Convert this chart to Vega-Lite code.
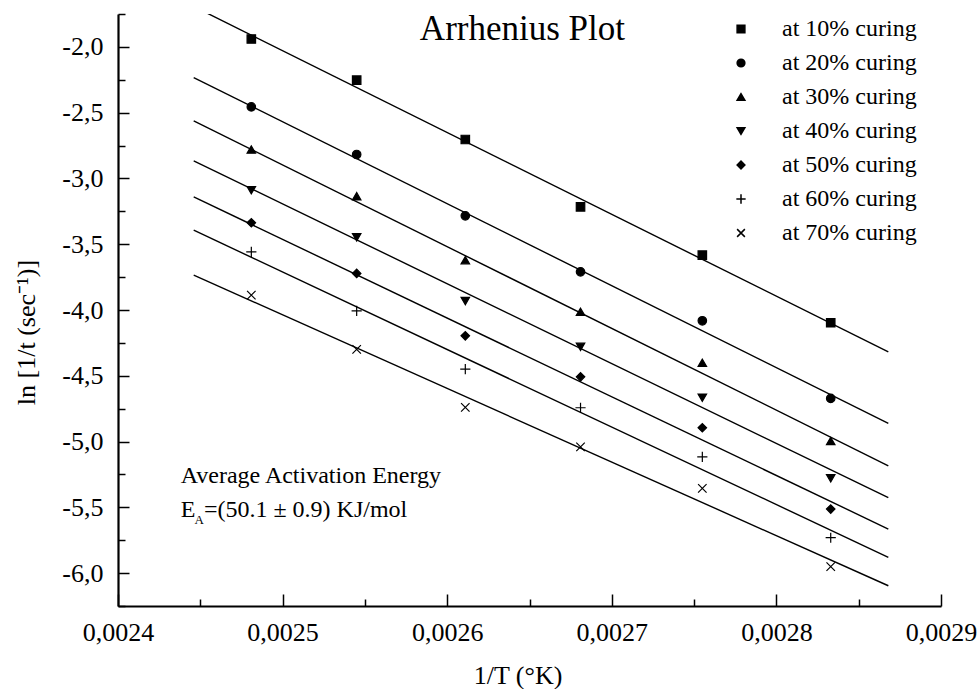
{
  "$schema": "https://vega.github.io/schema/vega-lite/v6.json",
  "width": 823,
  "height": 592,
  "autosize": "none",
  "padding": {"left": 118, "top": 14, "right": 37, "bottom": 83},
  "background": "white",
  "config": {
    "view": {"stroke": null},
    "font": "Liberation Serif",
    "axis": {"grid": false, "labelFont": "Liberation Serif", "titleFont": "Liberation Serif", "labelColor": "black", "titleColor": "black", "titleFontWeight": "normal", "domainColor": "black", "tickColor": "black"}
  },
  "resolve": {"axis": {"x": "independent", "y": "independent"}},
  "datasets": {
    "points": [
      {"invT": 0.002481, "lnk": -1.94, "series": "at 10% curing"},
      {"invT": 0.002545, "lnk": -2.253, "series": "at 10% curing"},
      {"invT": 0.002611, "lnk": -2.704, "series": "at 10% curing"},
      {"invT": 0.002681, "lnk": -3.216, "series": "at 10% curing"},
      {"invT": 0.002755, "lnk": -3.583, "series": "at 10% curing"},
      {"invT": 0.002833, "lnk": -4.097, "series": "at 10% curing"},
      {"invT": 0.002481, "lnk": -2.456, "series": "at 20% curing"},
      {"invT": 0.002545, "lnk": -2.818, "series": "at 20% curing"},
      {"invT": 0.002611, "lnk": -3.284, "series": "at 20% curing"},
      {"invT": 0.002681, "lnk": -3.71, "series": "at 20% curing"},
      {"invT": 0.002755, "lnk": -4.082, "series": "at 20% curing"},
      {"invT": 0.002833, "lnk": -4.672, "series": "at 20% curing"},
      {"invT": 0.002481, "lnk": -2.78, "series": "at 30% curing"},
      {"invT": 0.002545, "lnk": -3.135, "series": "at 30% curing"},
      {"invT": 0.002611, "lnk": -3.621, "series": "at 30% curing"},
      {"invT": 0.002681, "lnk": -4.014, "series": "at 30% curing"},
      {"invT": 0.002755, "lnk": -4.401, "series": "at 30% curing"},
      {"invT": 0.002833, "lnk": -4.996, "series": "at 30% curing"},
      {"invT": 0.002481, "lnk": -3.089, "series": "at 40% curing"},
      {"invT": 0.002545, "lnk": -3.448, "series": "at 40% curing"},
      {"invT": 0.002611, "lnk": -3.932, "series": "at 40% curing"},
      {"invT": 0.002681, "lnk": -4.28, "series": "at 40% curing"},
      {"invT": 0.002755, "lnk": -4.667, "series": "at 40% curing"},
      {"invT": 0.002833, "lnk": -5.28, "series": "at 40% curing"},
      {"invT": 0.002481, "lnk": -3.337, "series": "at 50% curing"},
      {"invT": 0.002545, "lnk": -3.722, "series": "at 50% curing"},
      {"invT": 0.002611, "lnk": -4.196, "series": "at 50% curing"},
      {"invT": 0.002681, "lnk": -4.508, "series": "at 50% curing"},
      {"invT": 0.002755, "lnk": -4.895, "series": "at 50% curing"},
      {"invT": 0.002833, "lnk": -5.513, "series": "at 50% curing"},
      {"invT": 0.002481, "lnk": -3.558, "series": "at 60% curing"},
      {"invT": 0.002545, "lnk": -4.006, "series": "at 60% curing"},
      {"invT": 0.002611, "lnk": -4.449, "series": "at 60% curing"},
      {"invT": 0.002681, "lnk": -4.743, "series": "at 60% curing"},
      {"invT": 0.002755, "lnk": -5.116, "series": "at 60% curing"},
      {"invT": 0.002833, "lnk": -5.731, "series": "at 60% curing"},
      {"invT": 0.002481, "lnk": -3.887, "series": "at 70% curing"},
      {"invT": 0.002545, "lnk": -4.299, "series": "at 70% curing"},
      {"invT": 0.002611, "lnk": -4.74, "series": "at 70% curing"},
      {"invT": 0.002681, "lnk": -5.04, "series": "at 70% curing"},
      {"invT": 0.002755, "lnk": -5.356, "series": "at 70% curing"},
      {"invT": 0.002833, "lnk": -5.951, "series": "at 70% curing"}
    ],
    "lines": [
      {"invT": 0.002446, "lnk": -1.693, "series": "at 10% curing"},
      {"invT": 0.002868, "lnk": -4.318, "series": "at 10% curing"},
      {"invT": 0.002446, "lnk": -2.233, "series": "at 20% curing"},
      {"invT": 0.002868, "lnk": -4.862, "series": "at 20% curing"},
      {"invT": 0.002446, "lnk": -2.562, "series": "at 30% curing"},
      {"invT": 0.002868, "lnk": -5.184, "series": "at 30% curing"},
      {"invT": 0.002446, "lnk": -2.866, "series": "at 40% curing"},
      {"invT": 0.002868, "lnk": -5.427, "series": "at 40% curing"},
      {"invT": 0.002446, "lnk": -3.14, "series": "at 50% curing"},
      {"invT": 0.002868, "lnk": -5.665, "series": "at 50% curing"},
      {"invT": 0.002446, "lnk": -3.393, "series": "at 60% curing"},
      {"invT": 0.002868, "lnk": -5.88, "series": "at 60% curing"},
      {"invT": 0.002446, "lnk": -3.735, "series": "at 70% curing"},
      {"invT": 0.002868, "lnk": -6.096, "series": "at 70% curing"}
    ]
  },
  "layer": [
    {
      "data": {"name": "lines"},
      "mark": {"type": "line", "clip": true, "color": "black", "strokeWidth": 1.4},
      "encoding": {
        "x": {
          "field": "invT", "type": "quantitative",
          "scale": {"domain": [0.0024, 0.0029], "nice": false, "zero": false},
          "axis": {
            "orient": "bottom",
            "values": [0.0024, 0.0025, 0.0026, 0.0027, 0.0028, 0.0029],
            "domainWidth": 2.2,
            "tickWidth": 1.5,
            "tickSize": -12,
            "labelExpr": "replace(format(datum.value,'.4f'),'.',',')",
            "labelFontSize": 26,
            "labelPadding": 25,
            "labelFlush": false,
            "labelOverlap": false,
            "title": "1/T (°K)",
            "titleFontSize": 26,
            "titleBaseline": "alphabetic",
            "titleX": 399.5,
            "titleY": 77
          }
        },
        "y": {
          "field": "lnk", "type": "quantitative",
          "scale": {"domain": [-6.25, -1.75], "nice": false, "zero": false},
          "axis": {
            "orient": "left",
            "values": [-6, -5.5, -5, -4.5, -4, -3.5, -3, -2.5, -2],
            "domainWidth": 2.2,
            "tickWidth": 1.5,
            "tickSize": -11,
            "labelExpr": "'-' + replace(format(abs(datum.value),'.1f'),'.',',')",
            "labelFontSize": 26,
            "labelPadding": 26,
            "labelFlush": false,
            "labelOverlap": false,
            "title": "ln [1/t (sec⁻¹)]",
            "titleFontSize": 26,
            "titleBaseline": "alphabetic",
            "titleX": -84,
            "titleY": 318
          }
        },
        "detail": {"field": "series", "type": "nominal"}
      }
    },
    {
      "data": {"name": "points"},
      "mark": {"type": "point", "filled": false, "fill": "black", "stroke": "black", "strokeWidth": 1.2, "opacity": 1, "fillOpacity": 1, "size": 72},
      "encoding": {
        "x": {
          "field": "invT", "type": "quantitative",
          "axis": {
            "orient": "bottom",
            "values": [0.00245, 0.00255, 0.00265, 0.00275, 0.00285],
            "domain": false,
            "tickWidth": 1.5,
            "tickSize": -7,
            "labels": false,
            "title": null
          }
        },
        "y": {
          "field": "lnk", "type": "quantitative",
          "axis": {
            "orient": "left",
            "values": [-6.25, -5.75, -5.25, -4.75, -4.25, -3.75, -3.25, -2.75, -2.25, -1.75],
            "domain": false,
            "tickWidth": 1.5,
            "tickSize": -7,
            "labels": false,
            "title": null
          }
        },
        "shape": {
          "field": "series", "type": "nominal",
          "scale": {
            "domain": ["at 10% curing", "at 20% curing", "at 30% curing", "at 40% curing", "at 50% curing", "at 60% curing", "at 70% curing"],
            "range": ["square", "circle", "triangle-up", "triangle-down", "diamond", "M-1.2,0L1.2,0M0,-1.2L0,1.2", "M-1,-1L1,1M-1,1L1,-1"]
          },
          "legend": {
            "orient": "none",
            "legendX": 611,
            "legendY": 3,
            "title": null,
            "padding": 0,
            "labelFont": "Liberation Serif",
            "labelFontSize": 24,
            "labelColor": "black",
            "symbolSize": 60,
            "labelOffset": 29,
            "rowPadding": 10,
            "encode": {
              "symbols": {
                "update": {
                  "fill": {"value": "black"},
                  "stroke": {"value": "black"},
                  "strokeWidth": {"value": 1.2},
                  "opacity": {"value": 1},
                  "fillOpacity": {"value": 1}
                }
              }
            }
          }
        }
      }
    },
    {
      "data": {"values": [{}]},
      "mark": {"type": "text", "text": "Arrhenius Plot", "font": "Liberation Serif", "fontSize": 35, "align": "center", "baseline": "alphabetic", "color": "black"},
      "encoding": {"x": {"datum": 0.0026457, "type": "quantitative", "axis": null}, "y": {"datum": -1.949, "type": "quantitative", "axis": null}}
    },
    {
      "data": {"values": [{}]},
      "mark": {"type": "text", "text": "Average Activation Energy", "font": "Liberation Serif", "fontSize": 24, "align": "left", "baseline": "alphabetic", "color": "black"},
      "encoding": {"x": {"datum": 0.0024381, "type": "quantitative", "axis": null}, "y": {"datum": -5.315, "type": "quantitative", "axis": null}}
    },
    {
      "data": {"values": [{}]},
      "mark": {"type": "text", "text": "E", "font": "Liberation Serif", "fontSize": 24, "align": "left", "baseline": "alphabetic", "color": "black"},
      "encoding": {"x": {"datum": 0.0024381, "type": "quantitative", "axis": null}, "y": {"datum": -5.571, "type": "quantitative", "axis": null}}
    },
    {
      "data": {"values": [{}]},
      "mark": {"type": "text", "text": "A", "font": "Liberation Serif", "fontSize": 13, "align": "left", "baseline": "alphabetic", "color": "black"},
      "encoding": {"x": {"datum": 0.0024465, "type": "quantitative", "axis": null}, "y": {"datum": -5.627, "type": "quantitative", "axis": null}}
    },
    {
      "data": {"values": [{}]},
      "mark": {"type": "text", "text": "=(50.1 ± 0.9) KJ/mol", "font": "Liberation Serif", "fontSize": 24, "align": "left", "baseline": "alphabetic", "color": "black"},
      "encoding": {"x": {"datum": 0.0024522, "type": "quantitative", "axis": null}, "y": {"datum": -5.571, "type": "quantitative", "axis": null}}
    }
  ]
}
